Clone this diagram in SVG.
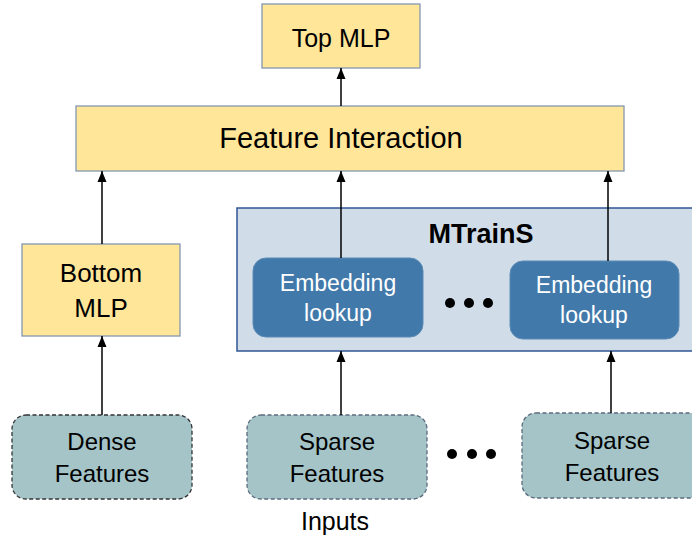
<svg xmlns="http://www.w3.org/2000/svg" width="692" height="539" viewBox="0 0 692 539">
<defs>
<marker id="ah" markerUnits="userSpaceOnUse" markerWidth="11" markerHeight="11" viewBox="0 0 11 11" refX="11" refY="5.5" orient="auto">
<path d="M0,1 L11,5.5 L0,10 z" fill="#000"/>
</marker>
<style>
text{font-family:"Liberation Sans",Arial,sans-serif;text-anchor:middle;fill:#000}
.y{fill:#ffe699;stroke:#8497b0;stroke-width:1.3}
.emb{fill:#4179aa;stroke:#5a8ab5;stroke-width:1}
.embt{fill:#fff;font-size:23px}
.inp{fill:#a4c4c8;stroke-width:1.3;stroke-dasharray:4 2.5}
.c{stroke:#000;stroke-width:1.5;fill:none;marker-end:url(#ah)}
</style>
</defs>
<rect width="692" height="539" fill="#fff"/>
<g id="top-mlp">
<rect class="y" x="262" y="4" width="158" height="64"/>
<text x="341" y="47" font-size="25">Top MLP</text>
</g>
<g id="feature-interaction">
<rect class="y" x="76" y="106" width="548" height="65"/>
<text x="341" y="148" font-size="29">Feature Interaction</text>
</g>
<g id="bottom-mlp">
<rect class="y" x="22" y="244" width="158" height="92"/>
<text x="101" y="282" font-size="26">Bottom</text>
<text x="101" y="317" font-size="26">MLP</text>
</g>
<g id="mtrains">
<rect x="237" y="208" width="470" height="143" fill="#d0dde8" stroke="#2f5597" stroke-width="1.5"/>
<text x="481" y="243" font-size="27" font-weight="bold">MTrainS</text>
<circle cx="450" cy="303" r="5" fill="#000"/>
<circle cx="469" cy="303" r="5" fill="#000"/>
<circle cx="488" cy="303" r="5" fill="#000"/>
</g>
<g id="embedding-1">
<rect class="emb" x="253" y="258" width="170" height="79" rx="13"/>
<text class="embt" x="338" y="291">Embedding</text>
<text class="embt" x="338" y="321">lookup</text>
</g>
<g id="embedding-2">
<rect class="emb" x="510" y="261" width="169" height="78" rx="13"/>
<text class="embt" x="594" y="293">Embedding</text>
<text class="embt" x="594" y="323">lookup</text>
</g>
<g id="dense-features">
<rect class="inp" x="12" y="415" width="180" height="84" rx="14" stroke="#333"/>
<text x="102" y="450" font-size="24">Dense</text>
<text x="102" y="482" font-size="24">Features</text>
</g>
<g id="sparse-features-1">
<rect class="inp" x="247" y="415" width="180" height="84" rx="14" stroke="#5b6b7d"/>
<text x="337" y="450" font-size="24">Sparse</text>
<text x="337" y="482" font-size="24">Features</text>
</g>
<g id="sparse-dots">
<circle cx="452" cy="454" r="5" fill="#000"/>
<circle cx="472" cy="454" r="5" fill="#000"/>
<circle cx="491" cy="454" r="5" fill="#000"/>
</g>
<g id="sparse-features-2">
<rect class="inp" x="522" y="413" width="185" height="85" rx="14" stroke="#5b6b7d"/>
<text x="612" y="449" font-size="24">Sparse</text>
<text x="612" y="481" font-size="24">Features</text>
</g>
<g id="inputs-label">
<text x="335" y="530" font-size="25">Inputs</text>
</g>
<g id="connectors">
<line class="c" x1="341" y1="106" x2="341" y2="68"/>
<line class="c" x1="102" y1="244" x2="102" y2="171"/>
<line class="c" x1="341" y1="258" x2="341" y2="171"/>
<line class="c" x1="608" y1="261" x2="608" y2="171"/>
<line class="c" x1="102" y1="415" x2="102" y2="336"/>
<line class="c" x1="341" y1="415" x2="341" y2="351"/>
<line class="c" x1="611" y1="413" x2="611" y2="351"/>
</g>
</svg>
